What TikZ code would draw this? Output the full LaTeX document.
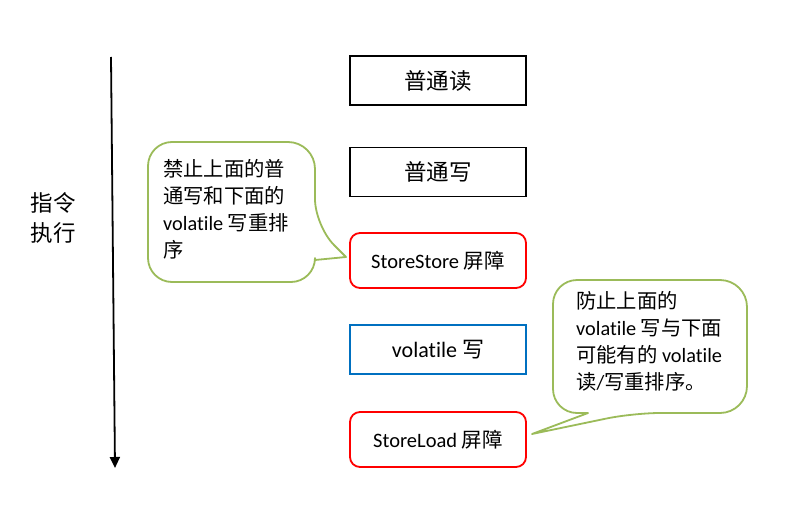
\documentclass[tikz,border=0pt]{standalone}
\usepackage{fontspec}
\setmainfont{Carlito}[Ligatures=NoCommon]
\newfontfamily\cjkf{Noto Sans CJK SC}
\newcommand\zh[1]{{\cjkf #1}}
\usetikzlibrary{arrows.meta}
\definecolor{callgreen}{HTML}{9BBB59}
\definecolor{barred}{HTML}{FF0000}
\definecolor{volblue}{HTML}{0070C0}
\tikzset{
  opbox/.style={draw=black, line width=1.8pt, minimum width=176pt, minimum height=49pt, inner sep=0pt, font=\fontsize{22.5}{26}\selectfont},
  barbox/.style={draw=barred, line width=1.8pt, rounded corners=10pt, minimum width=176pt, minimum height=55pt, inner sep=0pt, font=\fontsize{20.5}{24}\selectfont},
  volbox/.style={draw=volblue, line width=1.8pt, minimum width=176pt, minimum height=49pt, inner sep=0pt, font=\fontsize{22}{26}\selectfont},
  callout/.style={draw=callgreen, line width=1.8pt, fill=white, line join=round},
  calltext/.style={align=left, anchor=north west, inner sep=0pt, font=\fontsize{20.3}{27}\selectfont},
  flow/.style={line width=1.8pt, -{Triangle[width=10pt,length=11pt]}}
}
\begin{document}
\begin{tikzpicture}[x=1pt,y=-1pt]
\useasboundingbox (0,0) rectangle (802,516);
% execution arrow
\coordinate (atop) at (111,57);
\coordinate (abot) at (115,468);
\draw[flow] (atop) -- (abot);
\node[align=left, inner sep=0pt, font=\fontsize{22.5}{30}\selectfont] (lbl) at (53,218) {\zh{指令}\\\zh{执行}};
% boxes
\node[opbox] (nr) at (438,80.5) {\zh{普通读}};
\node[opbox] (nw) at (438,172) {\zh{普通写}};
\node[barbox] (ss) at (438,260.5) {StoreStore \zh{屏障}};
\node[volbox] (vw) at (438,349.5) {volatile \zh{写}};
\node[barbox] (sl) at (438,439.5) {StoreLoad \zh{屏障}};
% callout 1
\draw[callout] (232,142) [rounded corners=27pt] -- (315,142) -- (315,226) [sharp corners] -- (346,257) -- (315,260) [rounded corners=24pt] -- (315,282) -- (148,282) -- (148,142) -- cycle;
\node[calltext] (t1) at (163,159) {\zh{禁止上面的普}\\\zh{通写和下面的}\\volatile \zh{写重排}\\\zh{序}};
% callout 2
\draw[callout] (650,280) [rounded corners=27pt] -- (747,280) -- (747,413) -- (633,413) [sharp corners] -- (532,434) -- (588,413) [rounded corners=24pt] -- (553,413) -- (553,280) -- cycle;
\node[calltext] (t2) at (576,291) {\zh{防止上面的}\\volatile \zh{写与下面}\\\zh{可能有的} volatile\\\zh{读}/\zh{写重排序。}};
\end{tikzpicture}
\end{document}
